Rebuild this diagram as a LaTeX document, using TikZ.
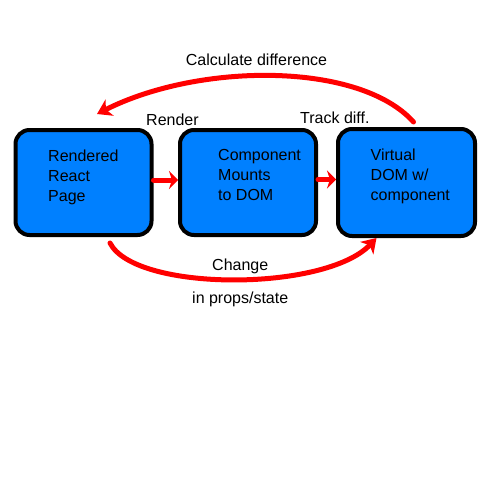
\documentclass[tikz,border=0pt]{standalone}
\usepackage{fontspec}
\setmainfont{Liberation Sans}
\usetikzlibrary{arrows.meta}
\definecolor{boxblue}{RGB}{0,128,255}
\definecolor{arrred}{RGB}{255,0,0}
\begin{document}
\begin{tikzpicture}[x=1pt,y=-1pt,
  box/.style={draw=black,line width=4pt,fill=boxblue,rounded corners=14pt,minimum width=136pt,minimum height=105pt,inner sep=0pt},
  txt/.style={font=\fontsize{16}{20}\selectfont,inner sep=0pt,align=left,anchor=base west},
  lbl/.style={font=\fontsize{16}{20}\selectfont,inner sep=0pt,anchor=base west},
  arr/.style={draw=arrred,line width=5pt,line cap=round,-{Stealth[length=14pt,width=18pt,inset=4pt]}}]
\fill[white] (0,0) rectangle (500,500);
\useasboundingbox (0,0) rectangle (500,500);
\node[box] (b1) at (83.5,182.5) {};
\node[box] (b2) at (248,182.5) {};
\node[box,minimum width=137pt,minimum height=107pt] (b3) at (406.5,182.5) {};
\node[txt] (t1) at (48,201) {Rendered\\React\\Page};
\node[txt] (t2) at (218,200) {Component\\Mounts\\to DOM};
\node[txt] (t3) at (370.5,200) {Virtual\\DOM w/\\component};
\node[lbl,anchor=base] (calc) at (256.5,66) {Calculate difference};
\node[lbl] (render) at (146,125) {Render};
\node[lbl] (track) at (300,123) {Track diff.};
\node[lbl] (change) at (212,270) {Change};
\node[lbl] (props) at (192,303) {in props/state};
\coordinate (topend) at (97,114);
\draw[arr] ([xshift=7pt,yshift=5pt]b3.north) .. controls (360,62) and (200,62) .. (topend);
\draw[arr] ([xshift=26.5pt,yshift=-6pt]b1.south) .. controls (135,292) and (325,292) .. ([xshift=-30pt]b3.south);
\draw[arr,-{Stealth[length=9pt,width=18pt,inset=3pt]}] ([yshift=2.5pt]b1.east) -- ([yshift=2.5pt]b2.west);
\draw[arr,-{Stealth[length=9pt,width=18pt,inset=3pt]}] ([yshift=3pt]b2.east) -- ([yshift=3pt]b3.west);
\end{tikzpicture}
\end{document}
